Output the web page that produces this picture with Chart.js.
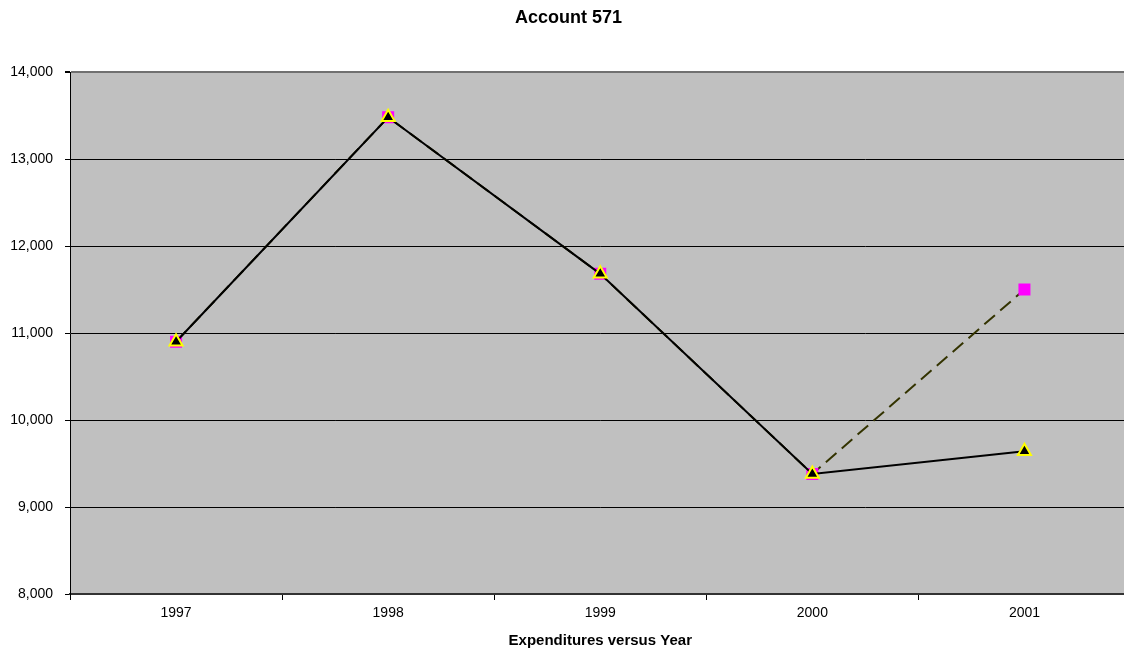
<!DOCTYPE html>
<html>
<head>
<meta charset="utf-8">
<script src="https://cdn.jsdelivr.net/npm/chart.js@4/dist/chart.umd.min.js"></script>
<style>
  html, body { margin: 0; padding: 0; background: #fff; overflow: hidden; }
  #clip { width: 1124px; height: 650px; overflow: hidden; }
  #acct { display: block; margin-left: -3px; }
</style>
</head>
<body>
<div id="clip"><canvas id="acct" width="1143" height="650"></canvas></div>
<script>
// Account 571 expenditures by year
const years = ['1997', '1998', '1999', '2000', '2001'];
const actual = [10900, 13480, 11680, 9380, 9640];
const projected = [10900, 13480, 11680, 9380, 11500];
const yTicks = [8000, 9000, 10000, 11000, 12000, 13000, 14000];

const FONT = "'Liberation Sans', Arial, sans-serif";

// gray plot background
const plotBg = {
    id: 'plotBg',
    beforeDraw(chart) {
        const { ctx, chartArea: a } = chart;
        ctx.save();
        ctx.fillStyle = '#c0c0c0';
        ctx.fillRect(a.left, a.top, a.right - a.left, a.bottom - a.top);
        ctx.restore();
    }
};

new Chart(document.getElementById('acct'), {
    type: 'line',
    data: {
        labels: years,
        datasets: [
            {
                label: 'Actual',
                data: actual,
                borderColor: '#000000',
                borderWidth: 2,
                pointStyle: 'triangle',
                pointRadius: 7.5,
                pointBackgroundColor: '#000000',
                pointBorderColor: '#ffff00',
                pointBorderWidth: 2,
                tension: 0,
                order: 1
            },
            {
                label: 'Projected',
                data: projected,
                borderColor: '#333300',
                borderWidth: 2,
                borderDash: [14, 7],
                pointStyle: 'rect',
                pointRadius: 8.5,
                pointBackgroundColor: '#ff00ff',
                pointBorderColor: '#ff00ff',
                pointBorderWidth: 0,
                tension: 0,
                order: 2
            }
        ]
    },
    options: {
        responsive: false,
        animation: false,
        layout: { padding: 0 },
        plugins: {
            legend: { display: false },
            tooltip: { enabled: false },
            title: {
                display: true,
                text: 'Account 571',
                color: '#000',
                font: { family: FONT, size: 18, weight: 'bold' },
                padding: { top: 7, bottom: 43.4 }
            }
        },
        scales: {
            x: {
                offset: true,
                grid: {
                    offset: true,
                    drawOnChartArea: false,
                    drawTicks: true,
                    tickLength: 6,
                    tickColor: '#000'
                },
                border: { color: '#333', width: 2 },
                ticks: {
                    color: '#000',
                    font: { family: FONT, size: 14 },
                    padding: 5
                },
                title: {
                    display: true,
                    text: 'Expenditures versus Year',
                    color: '#000',
                    font: { family: FONT, size: 15, weight: 'bold' },
                    padding: { top: 0, bottom: 0 }
                },
                afterFit(scale) { scale.height = 56; }
            },
            y: {
                min: yTicks[0],
                max: yTicks[yTicks.length - 1],
                afterBuildTicks(scale) {
                    scale.ticks = yTicks.map(v => ({ value: v }));
                },
                grid: {
                    color: ctx => ctx.tick && ctx.tick.value === 14000 ? '#707070' : '#000',
                    lineWidth: ctx => ctx.tick && ctx.tick.value === 14000 ? 2 : 1,
                    drawTicks: true,
                    tickLength: 5,
                    tickColor: '#000'
                },
                border: { color: '#000', width: 1 },
                ticks: {
                    color: '#000',
                    font: { family: FONT, size: 14 },
                    padding: 12,
                    callback: v => v.toLocaleString('en-US')
                },
                afterFit(scale) { scale.width = 73; }
            }
        }
    },
    plugins: [plotBg]
});
</script>
</body>
</html>
